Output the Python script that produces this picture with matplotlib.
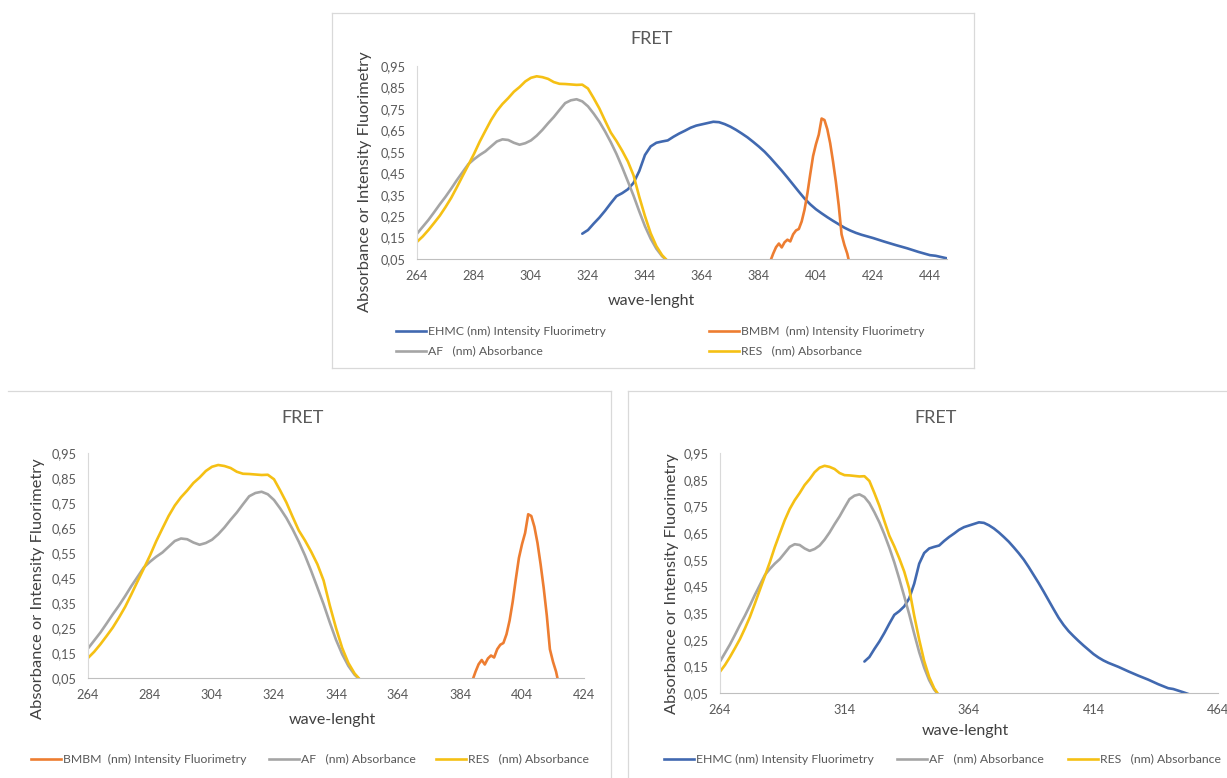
import matplotlib
matplotlib.use("Agg")
import matplotlib.pyplot as plt
from matplotlib.lines import Line2D

plt.rcParams['font.family'] = ['Lato', 'DejaVu Sans']

# ---- data ----
af_nm = [264, 266, 268, 270, 272, 274, 276, 278, 280, 282, 284, 286, 288, 290,
         292, 294, 296, 298, 300, 302, 304, 306, 308, 310, 312, 314, 316, 318,
         320, 322, 324, 326, 328, 330, 332, 334, 336, 338, 340, 342, 344, 346,
         348, 350, 352]
af_abs = [0.168, 0.200, 0.232, 0.268, 0.305, 0.340, 0.378, 0.418, 0.455, 0.492,
          0.515, 0.535, 0.552, 0.575, 0.598, 0.608, 0.605, 0.592, 0.583, 0.590,
          0.603, 0.625, 0.652, 0.683, 0.712, 0.745, 0.777, 0.790, 0.795, 0.785,
          0.762, 0.728, 0.690, 0.645, 0.595, 0.540, 0.478, 0.412, 0.345, 0.272,
          0.203, 0.145, 0.098, 0.063, 0.040]

res_nm = af_nm
res_abs = [0.130, 0.155, 0.185, 0.218, 0.252, 0.292, 0.335, 0.385, 0.437, 0.488,
           0.540, 0.597, 0.648, 0.698, 0.740, 0.773, 0.800, 0.830, 0.852, 0.878,
           0.895, 0.902, 0.898, 0.890, 0.875, 0.867, 0.866, 0.864, 0.862, 0.863,
           0.845, 0.800, 0.752, 0.695, 0.640, 0.600, 0.555, 0.505, 0.440, 0.340,
           0.250, 0.170, 0.110, 0.068, 0.040]

ehmc_nm = [322, 324, 326, 328, 330, 332, 334, 336, 338, 340, 342, 344, 346, 348,
           350, 352, 354, 356, 358, 360, 362, 364, 366, 368, 370, 372, 374, 376,
           378, 380, 382, 384, 386, 388, 390, 392, 394, 396, 398, 400, 402, 404,
           406, 408, 410, 412, 414, 416, 418, 420, 424, 428, 432, 436, 440, 444,
           446, 450, 454]
ehmc_int = [0.168, 0.185, 0.215, 0.243, 0.275, 0.310, 0.343, 0.357, 0.375, 0.405,
            0.460, 0.535, 0.575, 0.592, 0.598, 0.603, 0.620, 0.635, 0.648, 0.662,
            0.672, 0.678, 0.684, 0.690, 0.688, 0.679, 0.667, 0.652, 0.635, 0.617,
            0.596, 0.574, 0.550, 0.522, 0.492, 0.462, 0.430, 0.397, 0.364, 0.332,
            0.305, 0.282, 0.263, 0.245, 0.228, 0.212, 0.196, 0.183, 0.172, 0.163,
            0.148, 0.131, 0.115, 0.100, 0.083, 0.068, 0.065, 0.053, 0.040]

bmbm_nm = [388, 389, 390, 391, 392, 393, 394, 395, 396, 397, 398, 399, 400, 401,
           402, 403, 404, 405, 406, 407, 408, 409, 410, 411, 412, 413, 414, 415,
           415.6]
bmbm_int = [0.040, 0.075, 0.105, 0.122, 0.104, 0.128, 0.140, 0.132, 0.165, 0.183,
            0.190, 0.225, 0.280, 0.355, 0.445, 0.530, 0.585, 0.630, 0.705, 0.698,
            0.655, 0.590, 0.505, 0.410, 0.300, 0.165, 0.115, 0.075, 0.040]

y_ticks = [0.05, 0.15, 0.25, 0.35, 0.45, 0.55, 0.65, 0.75, 0.85, 0.95]

EHMC = ('EHMC (nm) Intensity Fluorimetry', '#4169B0')
BMBM = ('BMBM  (nm) Intensity Fluorimetry', '#ED7D31')
AF = ('AF   (nm) Absorbance', '#A5A5A5')
RES = ('RES   (nm) Absorbance', '#F5C014')

series = {
    'EHMC': (ehmc_nm, ehmc_int, EHMC),
    'BMBM': (bmbm_nm, bmbm_int, BMBM),
    'AF': (af_nm, af_abs, AF),
    'RES': (res_nm, res_abs, RES),
}

W, H = 1227, 778
fig = plt.figure(figsize=(W / 100, H / 100), dpi=100)
txt = '#595959'


def fx(x):
    return x / W


def fy(y):
    return 1 - y / H


def panel(box, xlim, xticks, names, title_xy, xlab_xy, ylab_xy):
    l, r, t, b = box
    ax = fig.add_axes([fx(l), fy(b), fx(r) - fx(l), fy(t) - fy(b)])
    for n in names:
        xs, ys, (lab, col) = series[n]
        ax.plot(xs, ys, color=col, lw=1.9, solid_capstyle='round')
    ax.set_xlim(*xlim)
    ax.set_ylim(0.05, 0.95)
    ax.set_xticks(xticks)
    ax.set_yticks(y_ticks)
    ax.set_yticklabels([f'{v:.2f}'.replace('.', ',') for v in y_ticks])
    for s in ['top', 'right']:
        ax.spines[s].set_visible(False)
    ax.spines['left'].set_color('#D9D9D9')
    ax.spines['bottom'].set_color('#BFBFBF')
    ax.tick_params(length=0, labelsize=9.2, labelcolor=txt)
    ax.tick_params(axis='x', pad=8)
    ax.tick_params(axis='y', pad=8)
    fig.text(fx(title_xy[0]), fy(title_xy[1]), 'FRET', fontsize=13,
             color=txt, ha='center', va='center')
    fig.text(fx(xlab_xy[0]), fy(xlab_xy[1]), 'wave-lenght', fontsize=11.5,
             color='#404040', ha='center', va='center')
    fig.text(fx(ylab_xy[0]), fy(ylab_xy[1]), 'Absorbance or Intensity Fluorimetry',
             fontsize=11.8, color='#404040', ha='center', va='center',
             rotation=90)
    return ax


def legend_entry(entry, x, y):
    lab, col = entry
    fig.add_artist(Line2D([fx(x), fx(x + 30)], [fy(y), fy(y)], color=col, lw=1.9))
    fig.text(fx(x + 32), fy(y), lab, fontsize=8.8, color=txt, ha='left', va='center')


# frames
def fline(x0, y0, x1, y1):
    fig.add_artist(Line2D([fx(x0), fx(x1)], [fy(y0), fy(y1)], color='#D9D9D9', lw=0.9))


fline(332, 13, 974, 13)
fline(332, 368, 974, 368)
fline(332, 13, 332, 368)
fline(974, 13, 974, 368)
fline(8, 391, 611, 391)
fline(611, 391, 611, 778)
fline(628, 391, 1227, 391)
fline(628, 391, 628, 778)

# top panel
panel((417, 947, 66, 259), (264, 450), list(range(264, 445, 20)),
      ['EHMC', 'BMBM', 'AF', 'RES'], (652, 39), (651, 301), (365, 182))
legend_entry(EHMC, 396, 331)
legend_entry(BMBM, 709, 331)
legend_entry(AF, 396, 351)
legend_entry(RES, 709, 351)

# bottom left
panel((88, 584, 453, 678), (264, 424), list(range(264, 425, 20)),
      ['BMBM', 'AF', 'RES'], (303, 418), (332, 720), (38, 589))
legend_entry(BMBM, 31, 759)
legend_entry(AF, 269, 759)
legend_entry(RES, 436, 759)

# bottom right
panel((720, 1218, 453, 693), (264, 464), list(range(264, 465, 50)),
      ['EHMC', 'AF', 'RES'], (936, 418), (965, 731), (672, 584))
legend_entry(EHMC, 664, 759)
legend_entry(AF, 897, 759)
legend_entry(RES, 1068, 759)

fig.savefig('out.png', dpi=100, facecolor='white')
